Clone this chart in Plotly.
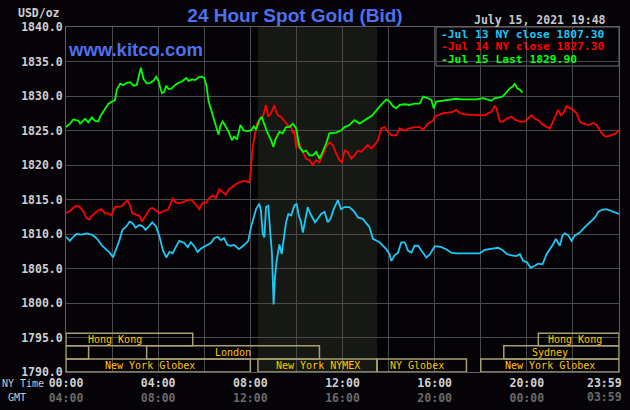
import plotly.graph_objects as go

# hours since 00:00 New York time
jul15_t = [0.00, 0.17, 0.32, 0.54, 0.61, 0.83, 0.97, 1.12, 1.26, 1.41, 1.48, 1.62, 1.84, 2.06, 2.13,
           2.20, 2.35, 2.49, 2.64, 2.78, 2.93, 3.07, 3.19, 3.25, 3.36, 3.51, 3.65, 3.80, 3.91, 4.01,
           4.16, 4.26, 4.35, 4.45, 4.59, 4.74, 4.88, 5.03, 5.22, 5.32, 5.46, 5.61, 5.75, 5.90, 6.00,
           6.09, 6.19, 6.33, 6.43, 6.55, 6.62, 6.70, 6.80, 6.91, 7.06, 7.20, 7.30, 7.42, 7.57, 7.71,
           7.86, 8.03, 8.15, 8.25, 8.39, 8.49, 8.60, 8.75, 8.90, 9.00, 9.10, 9.26, 9.40, 9.55, 9.70,
           9.84, 9.99, 10.13, 10.28, 10.42, 10.57, 10.71, 10.86, 11.00, 11.14, 11.29, 11.43, 11.58,
           11.72, 11.94, 12.09, 12.30, 12.52, 12.74, 12.88, 13.10, 13.30, 13.54, 13.75, 13.90, 14.04,
           14.19, 14.33, 14.48, 14.70, 14.90, 15.13, 15.35, 15.50, 15.70, 15.86, 15.96, 16.07, 16.36,
           16.65, 16.94, 17.23, 17.52, 17.80, 18.10, 18.32, 18.46, 18.60, 18.83, 18.97, 19.12, 19.26,
           19.40, 19.48, 19.58, 19.70, 19.81]
jul15_p = [1825.5, 1826.0, 1826.6, 1826.4, 1826.0, 1826.7, 1826.2, 1826.9, 1826.4, 1826.3, 1827.0,
           1827.7, 1828.9, 1829.3, 1829.4, 1830.9, 1831.8, 1831.6, 1831.9, 1832.0, 1831.5, 1831.6,
           1833.3, 1834.1, 1832.5, 1831.8, 1831.9, 1832.2, 1832.8, 1832.2, 1830.4, 1830.6, 1831.5,
           1831.0, 1831.1, 1831.6, 1831.9, 1832.1, 1832.6, 1832.2, 1832.4, 1832.3, 1832.7, 1832.8,
           1832.6, 1831.6, 1829.2, 1827.7, 1826.7, 1825.2, 1824.4, 1825.7, 1826.3, 1825.7, 1824.8,
           1823.6, 1824.1, 1823.7, 1825.8, 1825.0, 1824.9, 1825.0, 1825.6, 1825.1, 1826.5, 1827.0,
           1826.0, 1824.6, 1823.6, 1822.6, 1823.8, 1824.8, 1824.6, 1825.5, 1825.5, 1826.0, 1825.3,
           1822.6, 1821.9, 1822.1, 1821.4, 1821.4, 1821.9, 1820.9, 1821.9, 1823.1, 1824.6, 1824.6,
           1824.7, 1825.0, 1825.5, 1825.8, 1826.5, 1826.0, 1826.3, 1826.7, 1827.2, 1828.2, 1828.9,
           1829.5, 1829.2, 1828.5, 1828.2, 1828.7, 1828.8, 1828.7, 1828.9, 1828.9, 1829.9, 1829.7,
           1829.4, 1828.2, 1829.2, 1829.3, 1829.4, 1829.6, 1829.5, 1829.5, 1829.5, 1829.7, 1829.4,
           1829.3, 1829.7, 1829.8, 1830.0, 1830.6, 1831.1, 1831.4, 1831.8, 1831.1, 1830.9, 1830.5]

jul14_t = [0.00, 0.17, 0.32, 0.46, 0.60, 0.75, 0.89, 1.01, 1.11, 1.25, 1.40, 1.54, 1.68, 1.83, 1.97,
           2.12, 2.26, 2.40, 2.55, 2.66, 2.76, 2.88, 3.05, 3.19, 3.31, 3.45, 3.60, 3.74, 3.91, 4.06,
           4.20, 4.42, 4.53, 4.63, 4.78, 4.99, 5.21, 5.42, 5.57, 5.71, 5.78, 5.93, 6.07, 6.22, 6.36,
           6.50, 6.65, 6.79, 6.94, 7.08, 7.22, 7.37, 7.51, 7.73, 7.96, 8.03, 8.10, 8.17, 8.29, 8.39,
           8.54, 8.68, 8.78, 8.90, 9.04, 9.10, 9.19, 9.33, 9.48, 9.62, 9.77, 9.84, 9.91, 9.99, 10.06,
           10.17, 10.28, 10.42, 10.57, 10.71, 10.86, 11.00, 11.14, 11.29, 11.43, 11.58, 11.72, 11.87,
           11.97, 12.09, 12.23, 12.38, 12.52, 12.67, 12.81, 12.96, 13.10, 13.25, 13.39, 13.54, 13.68,
           13.83, 13.97, 14.12, 14.33, 14.48, 14.70, 14.90, 15.13, 15.35, 15.50, 15.70, 15.93, 16.00,
           16.14, 16.36, 16.58, 16.80, 16.94, 17.09, 17.38, 17.67, 17.96, 18.17, 18.32, 18.46, 18.60,
           18.68, 18.83, 18.97, 19.12, 19.33, 19.52, 19.70, 19.91, 20.06, 20.20, 20.35, 20.49, 20.71,
           20.86, 21.00, 21.07, 21.22, 21.36, 21.48, 21.58, 21.72, 21.87, 22.00, 22.16, 22.30, 22.45,
           22.67, 22.88, 23.03, 23.17, 23.32, 23.46, 23.68, 23.83, 24.00]
jul14_p = [1813.1, 1813.3, 1813.8, 1814.1, 1813.9, 1813.3, 1812.3, 1812.1, 1812.6, 1813.0, 1813.4,
           1813.6, 1813.0, 1813.0, 1812.7, 1813.9, 1813.9, 1814.0, 1814.5, 1814.9, 1814.3, 1813.0,
           1812.8, 1812.6, 1811.8, 1812.6, 1813.5, 1813.8, 1813.3, 1813.0, 1813.3, 1813.5, 1814.3,
           1815.1, 1814.5, 1814.5, 1814.8, 1815.0, 1814.5, 1814.0, 1813.6, 1814.5, 1814.5, 1815.2,
           1815.6, 1815.2, 1816.5, 1816.1, 1815.7, 1816.5, 1816.9, 1817.2, 1817.5, 1817.7, 1817.5,
           1819.5, 1822.6, 1824.1, 1826.0, 1826.5, 1827.0, 1828.7, 1827.0, 1827.5, 1828.7, 1828.0,
           1827.2, 1827.0, 1826.3, 1825.8, 1825.5, 1824.6, 1825.0, 1822.4, 1823.6, 1822.6, 1821.9,
           1820.9, 1820.7, 1820.0, 1820.7, 1820.4, 1821.4, 1822.6, 1823.3, 1822.9, 1821.7, 1820.7,
           1820.4, 1822.1, 1821.9, 1820.9, 1821.4, 1822.1, 1821.9, 1822.4, 1822.9, 1822.4, 1822.9,
           1823.6, 1825.3, 1825.5, 1824.8, 1824.3, 1824.3, 1825.3, 1825.0, 1825.3, 1825.5, 1825.5,
           1825.1, 1826.0, 1826.4, 1827.0, 1827.2, 1827.5, 1827.6, 1827.7, 1828.0, 1827.5, 1827.3,
           1827.3, 1827.3, 1827.2, 1827.5, 1827.7, 1828.5, 1828.2, 1826.3, 1826.3, 1826.7, 1827.0,
           1826.5, 1826.3, 1826.3, 1826.7, 1827.2, 1826.7, 1826.5, 1825.8, 1825.5, 1825.3, 1825.8,
           1827.0, 1828.0, 1827.2, 1827.5, 1828.5, 1828.2, 1828.0, 1827.5, 1826.3, 1826.0, 1825.8,
           1826.1, 1825.8, 1825.0, 1824.3, 1824.1, 1824.3, 1824.5, 1825.0]

jul13_t = [0.00, 0.17, 0.32, 0.46, 0.68, 0.89, 1.11, 1.25, 1.40, 1.54, 1.76, 1.90, 2.04, 2.16, 2.30,
           2.45, 2.62, 2.76, 2.88, 3.02, 3.17, 3.34, 3.45, 3.60, 3.74, 3.91, 4.06, 4.20, 4.35, 4.49,
           4.63, 4.78, 4.92, 5.14, 5.28, 5.42, 5.57, 5.71, 5.86, 6.07, 6.29, 6.43, 6.58, 6.72, 6.86,
           7.00, 7.15, 7.29, 7.51, 7.73, 7.91, 8.03, 8.14, 8.25, 8.39, 8.46, 8.54, 8.61, 8.68, 8.78,
           8.87, 8.94, 9.01, 9.07, 9.14, 9.26, 9.36, 9.45, 9.55, 9.65, 9.77, 9.91, 10.01, 10.10,
           10.20, 10.28, 10.38, 10.49, 10.61, 10.71, 10.81, 10.93, 11.07, 11.22, 11.36, 11.48, 11.62,
           11.80, 11.94, 12.09, 12.30, 12.52, 12.67, 12.88, 13.03, 13.17, 13.32, 13.46, 13.61, 13.75,
           13.90, 14.04, 14.12, 14.26, 14.41, 14.55, 14.70, 14.84, 14.99, 15.13, 15.28, 15.42, 15.64,
           15.78, 16.00, 16.14, 16.29, 16.50, 16.72, 16.94, 17.23, 17.59, 17.96, 18.17, 18.46, 18.75,
           18.97, 19.12, 19.33, 19.55, 19.70, 19.84, 20.01, 20.16, 20.35, 20.49, 20.68, 20.86, 21.00,
           21.14, 21.26, 21.36, 21.43, 21.55, 21.65, 21.80, 21.94, 22.09, 22.30, 22.52, 22.74, 22.96,
           23.10, 23.25, 23.46, 23.68, 23.83, 24.00]
jul13_p = [1809.6, 1809.0, 1809.6, 1810.0, 1809.9, 1810.1, 1809.9, 1809.6, 1809.1, 1808.4, 1807.7,
           1807.3, 1806.6, 1807.7, 1808.9, 1810.6, 1811.1, 1811.8, 1811.6, 1810.9, 1811.3, 1811.1,
           1810.6, 1811.1, 1811.7, 1811.1, 1809.6, 1807.7, 1806.6, 1807.4, 1807.2, 1808.2, 1809.0,
           1808.7, 1808.1, 1808.8, 1808.2, 1807.4, 1807.9, 1808.3, 1808.7, 1809.4, 1809.6, 1809.1,
           1809.4, 1808.4, 1808.3, 1808.4, 1807.8, 1808.4, 1809.0, 1811.0, 1812.4, 1813.6, 1814.4,
           1813.4, 1810.0, 1809.5, 1813.9, 1814.1, 1810.0, 1807.1, 1799.8, 1803.7, 1806.1, 1808.5,
           1807.1, 1809.0, 1811.7, 1812.9, 1812.7, 1814.1, 1814.4, 1812.7, 1811.7, 1810.2, 1812.2,
           1813.9, 1812.9, 1812.2, 1811.7, 1812.2, 1812.9, 1813.2, 1811.7, 1812.2, 1813.6, 1814.9,
           1813.6, 1813.9, 1813.9, 1813.2, 1812.4, 1812.2, 1811.5, 1811.0, 1809.3, 1809.0, 1808.8,
           1808.3, 1807.8, 1807.1, 1806.1, 1806.9, 1807.3, 1808.8, 1808.8, 1807.6, 1807.3, 1808.3,
           1808.3, 1807.6, 1806.6, 1807.0, 1808.2, 1808.2, 1808.1, 1807.8, 1807.3, 1807.2, 1807.2,
           1807.2, 1807.2, 1807.7, 1807.8, 1808.0, 1807.6, 1807.1, 1806.9, 1806.8, 1807.1, 1806.1,
           1805.9, 1805.1, 1805.4, 1805.7, 1805.6, 1807.1, 1807.8, 1808.5, 1809.3, 1808.8, 1808.3,
           1809.8, 1810.1, 1809.8, 1809.0, 1809.8, 1810.2, 1811.0, 1811.7, 1812.4, 1813.2, 1813.5,
           1813.6, 1813.3, 1813.2, 1812.9]

legend_text = ["Jul 13 NY close 1807.30", "Jul 14 NY close 1827.30", "Jul 15 Last 1829.90"]
stamp = "July 15, 2021 19:48"

ny_ticks = [0, 4, 8, 12, 16, 20, 24]
ny_labels = ["00:00", "04:00", "08:00", "12:00", "16:00", "20:00", "23:59"]
gmt_labels = ["04:00", "08:00", "12:00", "16:00", "20:00", "00:00", "03:59"]

# trading sessions (hours NY time), row 0 = bottom
session_names = ["Hong Kong", "", "London", "New York Globex", "New York NYMEX", "NY Globex",
                 "New York Globex", "Sydney", "Hong Kong"]
session_start = [0, 0, 3.5, 0, 8.33, 13.5, 18.0, 19.0, 20.5]
session_end = [5.5, 0.98, 11.0, 8.0, 13.5, 17.38, 24, 24, 24]
session_row = [2, 1, 1, 0, 0, 0, 0, 1, 2]
session_label_at = [2.14, 0.5, 7.25, 3.66, 10.92, 15.23, 21.0, 21.0, 22.1]
nymex_open = (8.33, 13.5)

BG = "#050307"
GRID = "#4a4a4a"
MONO = "DejaVu Sans Mono"
BLUE = "#5070ee"
GMT_GREY = "#6a6a6a"
colors = ["#1ec8f5", "#ff0000", "#00ff00"]

fig = go.Figure()
for t, p, c in [(jul13_t, jul13_p, colors[0]), (jul14_t, jul14_p, colors[1]), (jul15_t, jul15_p, colors[2])]:
    fig.add_trace(go.Scatter(x=t, y=p, mode="lines", line=dict(color=c, width=1.8), showlegend=False))

# NYMEX shading
fig.add_shape(type="rect", xref="x", yref="paper", x0=nymex_open[0], x1=nymex_open[1], y0=0, y1=1,
              fillcolor="#161814", line_width=0, layer="below")

row_edges = [1790.0, 1791.9, 1793.8, 1795.6]
for name, s, e, r, lab in zip(session_names, session_start, session_end, session_row, session_label_at):
    fig.add_shape(type="rect", xref="x", yref="y", x0=s, x1=e, y0=row_edges[r], y1=row_edges[r + 1],
                  line=dict(color="#a8a070", width=1.5), layer="between")
    if name:
        fig.add_annotation(x=lab, y=(row_edges[r] + row_edges[r + 1]) / 2, xref="x", yref="y",
                           text=name, showarrow=False, font=dict(family=MONO, size=10, color="#ffc800"))

# legend box
fig.add_shape(type="rect", xref="paper", yref="paper", x0=0.669, x1=1.0, y0=0.887, y1=1.0,
              fillcolor=BG, line=dict(color="#707070", width=1), layer="between")
for i, (txt, c) in enumerate(zip(legend_text, colors)):
    fig.add_annotation(x=0.676, y=[0.9797, 0.9449, 0.9072][i], xref="paper", yref="paper",
                       xanchor="left", yanchor="middle", text="-" + txt, showarrow=False, borderpad=0,
                       font=dict(family=MONO, size=11.3, color=c, weight="bold"))

fig.add_annotation(x=0.9807, y=1.0203, xref="paper", yref="paper", xanchor="right", yanchor="middle",
                   text=stamp, showarrow=False, font=dict(family=MONO, size=11.5, color="#c8c8c8", weight="bold"))
fig.add_annotation(x=-0.0078, y=1.0406, xref="paper", yref="paper", xanchor="right", yanchor="middle",
                   text="USD/oz", showarrow=False, font=dict(family=MONO, size=11.5, color="#d0d0d0", weight="bold"))
fig.add_annotation(x=0.0, y=0.936, xref="paper", yref="paper", xanchor="left", yanchor="middle",
                   text="www.kitco.com", showarrow=False,
                   font=dict(family="Liberation Sans", size=18.5, color=BLUE, weight="bold"))
fig.add_annotation(x=-0.037, y=-0.032, xref="paper", yref="paper", xanchor="right", yanchor="middle",
                   text="NY Time", showarrow=False, font=dict(family=MONO, size=10, color="#c8c8c8"))
fig.add_annotation(x=-0.0687, y=-0.0725, xref="paper", yref="paper", xanchor="right", yanchor="middle",
                   text="GMT", showarrow=False, font=dict(family=MONO, size=10, color="#c8c8c8"))

# the last tick label sits flush with the right edge, so it is drawn as annotations
tick_font = dict(family=MONO, size=11.5, color="#d0d0d0", weight="bold")
fig.add_annotation(x=ny_ticks[-1], y=-0.0319, xref="x", yref="paper", xanchor="right", yanchor="middle",
                   xshift=5, text=ny_labels[-1], showarrow=False, font=tick_font)
fig.add_annotation(x=ny_ticks[-1], y=-0.0739, xref="x", yref="paper", xanchor="right", yanchor="middle",
                   xshift=5, text=gmt_labels[-1], showarrow=False, font=dict(tick_font, color=GMT_GREY))

tickvals = list(range(0, 25, 2))
ticktext = []
for v in tickvals:
    if v in ny_ticks[:-1]:
        i = ny_ticks.index(v)
        ticktext.append(ny_labels[i] + "<br><span style='color:" + GMT_GREY + "'>" + gmt_labels[i] + "</span>")
    else:
        ticktext.append("")

fig.update_layout(
    width=630, height=410,
    margin=dict(l=66, r=11, t=27, b=38, autoexpand=False),
    paper_bgcolor=BG, plot_bgcolor=BG,
    title=dict(text="24 Hour Spot Gold (Bid)", x=295 / 630, y=1 - 15 / 410,
               xanchor="center", yanchor="middle",
               font=dict(family="Liberation Sans", size=19, color=BLUE, weight="bold")),
    xaxis=dict(range=[0, 24], tickvals=tickvals, ticktext=ticktext, showgrid=True, gridcolor=GRID,
               gridwidth=1, zeroline=False, showline=True, linecolor="#606060", mirror=True, ticks="",
               automargin=False, tickfont=tick_font),
    yaxis=dict(range=[1790, 1840], dtick=5, tickformat=".1f", showgrid=True, gridcolor=GRID,
               gridwidth=1, zeroline=False, showline=True, linecolor="#606060", mirror=True, ticks="",
               automargin=False, tickfont=tick_font),
    showlegend=False,
)

# drop the browser's default body margin so the figure fills the window
fig.write_html("out.html", config={"displayModeBar": False},
               post_script="document.body.style.margin='0';"
                           "document.body.style.background='#050307';")
